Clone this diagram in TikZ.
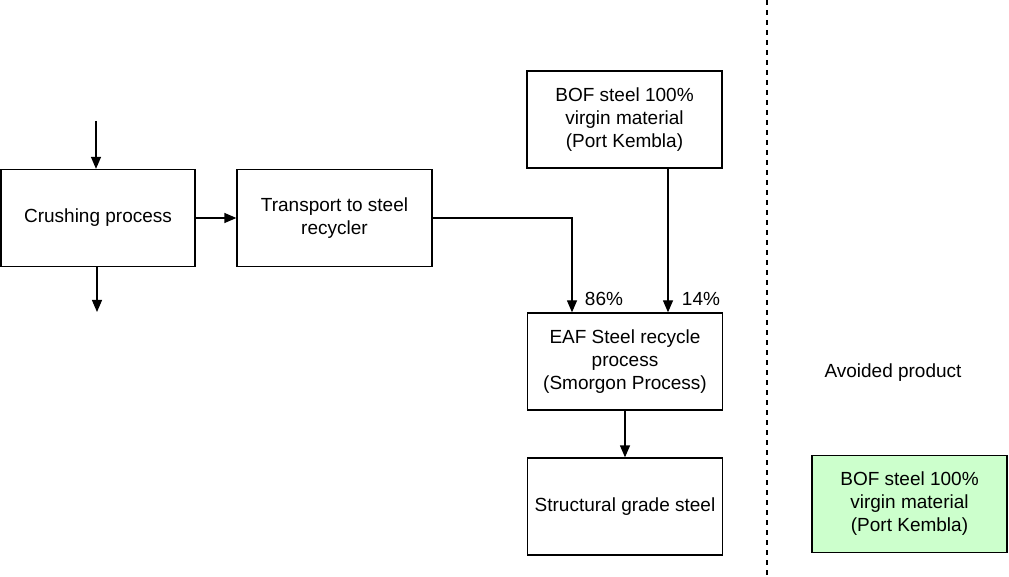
\documentclass[tikz,border=0pt]{standalone}
\usepackage{fontspec}
\setmainfont{Liberation Sans}
\usetikzlibrary{arrows.meta}
\definecolor{avoidfill}{HTML}{CCFFCC}
\begin{document}
\begin{tikzpicture}[x=1pt,y=-1pt,
  procbox/.style={draw=black, line width=1.3pt, minimum width=195pt, minimum height=97pt,
    align=center, inner sep=2pt, font=\fontsize{19}{23}\selectfont},
  flow/.style={line width=1.3pt, -{Triangle[length=12pt,width=10pt]}},
  pct/.style={font=\fontsize{19}{23}\selectfont, inner sep=0pt}]
\useasboundingbox (0,0) rectangle (1009,577);

% process boxes
\node[procbox, minimum width=194pt] (crush) at (98,218) {Crushing process};
\node[procbox] (trans) at (334.5,218) {Transport to steel\\recycler};
\node[procbox] (bof) at (624.5,119.5) {BOF steel 100\%\\virgin material\\(Port Kembla)};
\node[procbox] (eaf) at (625,361.5) {EAF Steel recycle\\process\\(Smorgon Process)};
\node[procbox] (steel) at (625,506.5) {Structural grade steel};
\node[procbox, fill=avoidfill] (avoid) at (909.5,504) {BOF steel 100\%\\virgin material\\(Port Kembla)};

% free ends of the input and output flows
\coordinate (in1) at (96,121);
\coordinate (out1) at (97,312);
\coordinate (mix) at (572,0);

% flows
\draw[flow] (in1) -- (in1 |- crush.north);
\draw[flow] (out1 |- crush.south) -- (out1);
\draw[flow] (crush.east) -- (trans.west);
\draw[flow] (trans.east) -| (mix |- eaf.north);
\draw[flow] ([xshift=43.5pt]bof.south) -- ([xshift=43pt]eaf.north);
\draw[flow] (eaf.south) -- (steel.north);

% shares of the feed
\node[pct] (p86) at (604,299) {86\%};
\node[pct] (p14) at (701,299) {14\%};

% system boundary
\coordinate (bt) at (767,0);
\coordinate (bb) at (767,577);
\draw[line width=1.2pt, dash pattern=on 5pt off 5pt] (bt) -- (bb);

\node[font=\fontsize{19}{23}\selectfont] (avlabel) at (893,373) {Avoided product};
\end{tikzpicture}
\end{document}
